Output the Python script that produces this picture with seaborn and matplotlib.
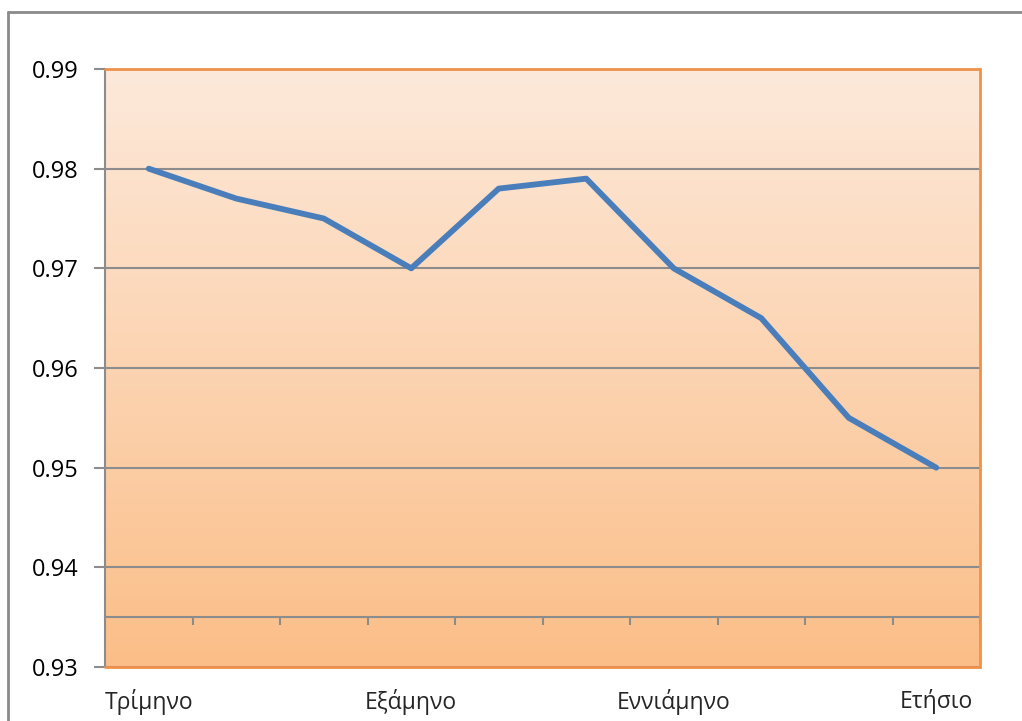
import numpy as np
import pandas as pd
import matplotlib
matplotlib.use("Agg")
import matplotlib.pyplot as plt
import seaborn as sns
from matplotlib.colors import LinearSegmentedColormap
from matplotlib.lines import Line2D

# ---- data ----
periods = list(range(1, 11))
values = [0.980, 0.977, 0.975, 0.970, 0.978, 0.979, 0.970, 0.965, 0.955, 0.950]
label_positions = [0, 3, 6, 9]
tick_labels = ["Τρίμηνο", "Εξάμηνο", "Εννιάμηνο", "Ετήσιο"]
y_ticks = [0.93, 0.94, 0.95, 0.96, 0.97, 0.98, 0.99]

sns.set_theme(style="white")
plt.rcParams['font.family'] = ['Open Sans', 'DejaVu Sans']

fig = plt.figure(figsize=(10.22, 7.21), dpi=100)
ax = fig.add_axes([105/1022, 1-667/721, 875/1022, 598/721])

df = pd.DataFrame({"x": np.arange(len(values)), "v": values})

# gradient background
cmap = LinearSegmentedColormap.from_list("g", ["#FBBE88", "#FDE9DA"])
grad = np.linspace(0, 1, 256).reshape(-1, 1)
ax.imshow(grad, extent=[-0.5, 9.5, 0.93, 0.99], origin="lower", aspect="auto",
          cmap=cmap, zorder=0)

ax.set_xlim(-0.5, 9.5)
ax.set_ylim(0.93, 0.99)
ax.set_yticks(y_ticks)
ax.set_yticklabels([f"{t:.2f}" for t in y_ticks])
ax.yaxis.grid(True, color="#8C8C8C", linewidth=1.5, zorder=1)
ax.set_axisbelow(False)

sns.lineplot(data=df, x="x", y="v", ax=ax, color="#4A7EBB", linewidth=4.2,
             zorder=3, solid_capstyle="round", solid_joinstyle="round")
ax.set_xlabel("")
ax.set_ylabel("")

# x axis crossing at 0.935
for s in ["top", "right"]:
    ax.spines[s].set_visible(False)
ax.spines["bottom"].set_position(("data", 0.935))
ax.spines["bottom"].set_color("#8C8C8C")
ax.spines["bottom"].set_linewidth(1.5)
ax.spines["bottom"].set_zorder(2)
ax.spines["left"].set_color("#8C8C8C")
ax.spines["left"].set_linewidth(1.5)
ax.set_xticks(np.arange(0.5, 10, 1.0))
ax.tick_params(axis="x", which="major", bottom=True, direction="out", length=6,
               width=1.5, color="#8C8C8C", labelbottom=False)
ax.tick_params(axis="y", left=True, direction="out", length=8, width=1.5,
               color="#8C8C8C", labelsize=17, pad=11)
for t in ax.get_yticklabels():
    t.set_color("black")

# category labels at bottom
sec = ax.secondary_xaxis(0)
sec.set_xticks(label_positions)
sec.set_xticklabels(tick_labels)
sec.tick_params(length=0, labelsize=16.5, pad=16)
sec.spines["bottom"].set_visible(False)

# orange border of plot area (top, right, bottom)
ax.plot([0, 1, 1, 0], [1, 1, 0, 0], transform=ax.transAxes, color="#F0914A",
        linewidth=2, clip_on=False, zorder=4, solid_joinstyle="miter")

# outer chart frame
fig.add_artist(Line2D([8/1022, 8/1022], [-0.01, 1-12/721], color="#8A8A8A", linewidth=2))
fig.add_artist(Line2D([8/1022, 1.01], [1-12/721, 1-12/721], color="#8A8A8A", linewidth=2))

fig.savefig("out.png", dpi=100)
